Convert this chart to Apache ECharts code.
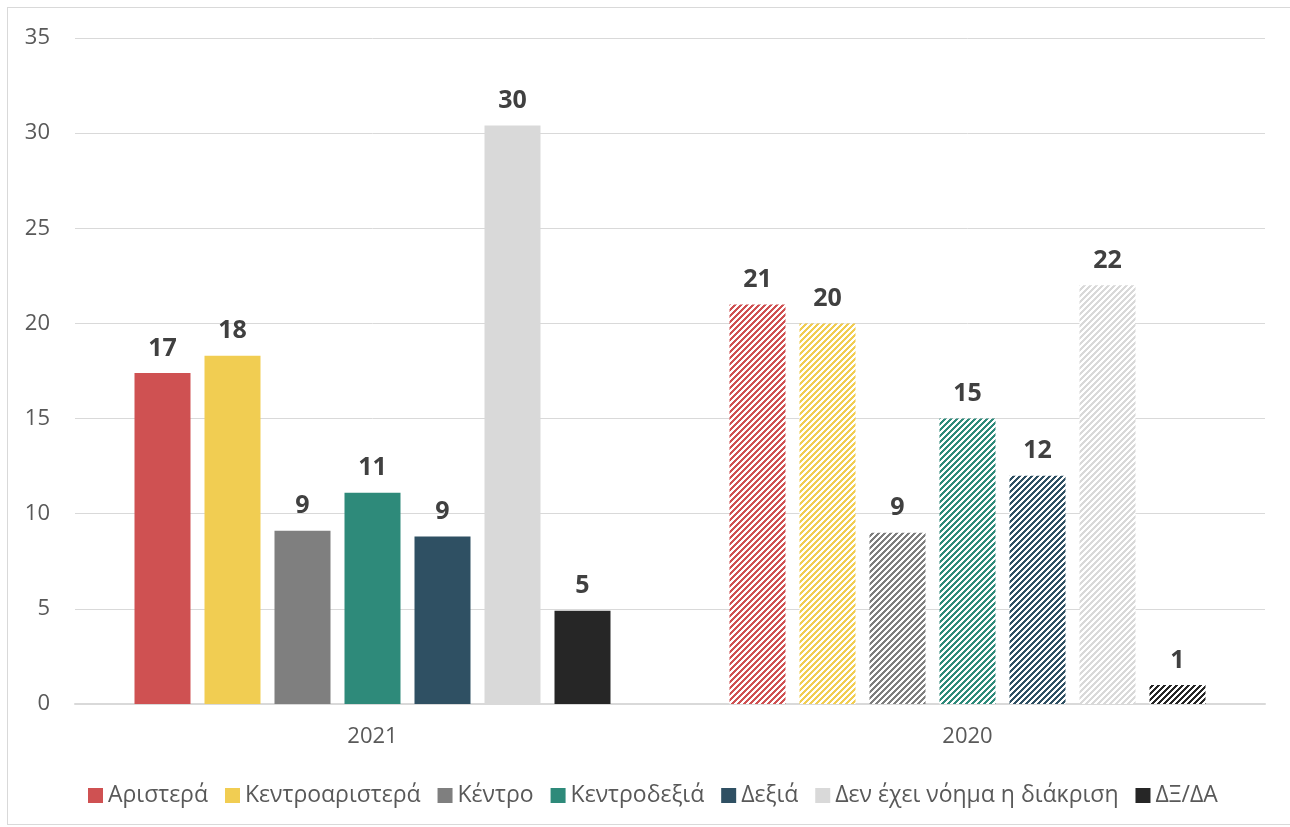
<!DOCTYPE html>
<html>
<head>
<meta charset="utf-8">
<script src="https://cdn.jsdelivr.net/npm/echarts@6/dist/echarts.min.js"></script>
<style>
html,body{margin:0;padding:0;background:#fff;}
#frame{position:absolute;left:7px;top:7px;width:1300px;height:818px;border:1px solid #d9d9d9;box-sizing:border-box;}
#chart{position:absolute;left:0;top:0;width:1290px;height:827px;}
</style>
</head>
<body>
<div id="frame"></div>
<div id="chart"></div>
<script>
const categories = ['2021', '2020'];
const seriesNames = ['Αριστερά', 'Κεντροαριστερά', 'Κέντρο', 'Κεντροδεξιά', 'Δεξιά', 'Δεν έχει νόημα η διάκριση', 'ΔΞ/ΔΑ'];
const values2021 = [17.4, 18.3, 9.1, 11.1, 8.8, 30.4, 4.9];
const values2020 = [21, 20, 9, 15, 12, 22, 1];
const yTicks = [0, 5, 10, 15, 20, 25, 30, 35];
const colors = ['#CF5152', '#F1CD52', '#7F7F7F', '#2E8A7A', '#2F5063', '#D9D9D9', '#262626'];

function hatch(color) {
  const s = 6;
  const c = document.createElement('canvas');
  c.width = s; c.height = s;
  const ctx = c.getContext('2d');
  ctx.fillStyle = '#ffffff';
  ctx.fillRect(0, 0, s, s);
  ctx.fillStyle = color;
  for (let x = 0; x < s; x++) {
    for (let y = 0; y < s; y++) {
      if ((x + y) % s < 3) ctx.fillRect(x, y, 1, 1);
    }
  }
  return { image: c, repeat: 'repeat' };
}

const chart = echarts.init(document.getElementById('chart'), null, { renderer: 'canvas' });
const font = '"Open Sans", "Noto Sans", sans-serif';

const series = seriesNames.map((name, i) => ({
  name: name,
  type: 'bar',
  barGap: '25%',
  barCategoryGap: '20%',
  itemStyle: { color: colors[i] },
  label: {
    show: true,
    position: 'top',
    distance: 12,
    fontFamily: font,
    fontWeight: 'bold',
    fontSize: 25,
    color: '#404040',
    formatter: p => Math.round(p.value)
  },
  data: [
    { value: values2021[i] },
    { value: values2020[i], itemStyle: { color: hatch(colors[i]) } }
  ]
}));

chart.setOption({
  animation: false,
  backgroundColor: 'transparent',
  textStyle: { fontFamily: font },
  grid: { left: 75, right: 25, top: 38, bottom: 123, containLabel: false },
  legend: {
    bottom: 15,
    left: 83,
    itemWidth: 15,
    itemHeight: 15,
    itemGap: 17,
    icon: 'rect',
    textStyle: { fontFamily: font, fontSize: 23, color: '#595959' },
    data: seriesNames.map((n, i) => ({ name: n, itemStyle: { color: colors[i] } }))
  },
  xAxis: {
    type: 'category',
    data: categories,
    axisLine: { lineStyle: { color: '#d9d9d9', width: 2 } },
    axisTick: { show: false },
    axisLabel: { fontFamily: font, fontSize: 22, color: '#595959', margin: 22 }
  },
  yAxis: {
    type: 'value',
    min: yTicks[0],
    max: yTicks[yTicks.length - 1],
    interval: 5,
    axisLine: { show: false },
    axisTick: { show: false },
    splitLine: { lineStyle: { color: '#d9d9d9', width: 1 } },
    axisLabel: { fontFamily: font, fontSize: 22, color: '#595959', margin: 25 }
  },
  series: series
});
</script>
</body>
</html>
